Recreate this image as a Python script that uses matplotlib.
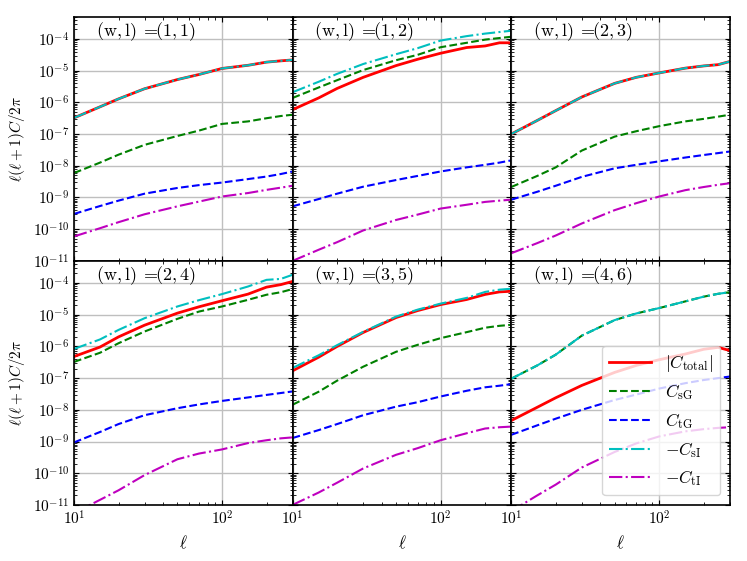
import numpy as np
import matplotlib
matplotlib.use("Agg")
import matplotlib.pyplot as plt
from matplotlib.ticker import LogLocator, NullFormatter

plt.rcParams['mathtext.fontset'] = 'cm'
plt.rcParams['font.family'] = 'serif'
plt.rcParams['font.serif'] = ['cmr10', 'DejaVu Serif']
plt.rcParams['axes.formatter.use_mathtext'] = True

# multipoles
ell = [10, 15, 20, 30, 50, 70, 100, 150, 200, 250, 300]

panel_titles = ["(1,1)", "(1,2)", "(2,3)", "(2,4)", "(3,5)", "(4,6)"]

# log10 of l(l+1)C/2pi, one list per panel
total = [
    [-6.49, -6.14, -5.89, -5.57, -5.28, -5.12, -4.93, -4.83, -4.73, -4.69, -4.66],
    [-6.23, -5.86, -5.56, -5.21, -4.84, -4.64, -4.45, -4.27, -4.22, -4.12, -4.12],
    [-7.00, -6.57, -6.26, -5.83, -5.40, -5.21, -5.07, -4.92, -4.85, -4.81, -4.71],
    [-6.32, -6.02, -5.70, -5.33, -4.95, -4.75, -4.56, -4.35, -4.13, -4.05, -3.95],
    [-6.77, -6.34, -6.00, -5.56, -5.09, -4.87, -4.68, -4.52, -4.36, -4.28, -4.26],
    [-8.34, -7.92, -7.62, -7.23, -6.82, -6.60, -6.42, -6.24, -6.09, -6.03, -6.13],
]
c_sG = [
    [-8.23, -7.90, -7.65, -7.34, -7.06, -6.89, -6.68, -6.60, -6.50, -6.43, -6.39],
    [-5.86, -5.53, -5.30, -4.98, -4.67, -4.50, -4.26, -4.12, -4.02, -3.97, -3.93],
    [-8.67, -8.32, -8.05, -7.52, -7.08, -6.91, -6.75, -6.60, -6.52, -6.45, -6.39],
    [-6.49, -6.20, -5.90, -5.53, -5.13, -4.90, -4.74, -4.53, -4.37, -4.29, -4.19],
    [-7.84, -7.43, -7.08, -6.64, -6.17, -5.95, -5.74, -5.55, -5.41, -5.35, -5.32],
    [-7.02, -6.60, -6.26, -5.66, -5.17, -4.96, -4.79, -4.58, -4.43, -4.34, -4.29],
]
c_tG = [
    [-9.52, -9.27, -9.10, -8.88, -8.70, -8.61, -8.53, -8.42, -8.34, -8.26, -8.18],
    [-9.28, -9.05, -8.88, -8.66, -8.45, -8.32, -8.18, -8.05, -7.97, -7.90, -7.83],
    [-9.07, -8.82, -8.63, -8.35, -8.08, -7.97, -7.86, -7.74, -7.66, -7.60, -7.55],
    [-9.03, -8.70, -8.45, -8.17, -7.95, -7.83, -7.72, -7.61, -7.53, -7.47, -7.42],
    [-8.89, -8.64, -8.45, -8.17, -7.90, -7.76, -7.58, -7.40, -7.29, -7.24, -7.19],
    [-8.79, -8.49, -8.28, -8.00, -7.69, -7.52, -7.33, -7.16, -7.06, -7.00, -6.95],
]
minus_c_sI = [
    [-6.49, -6.14, -5.89, -5.57, -5.28, -5.12, -4.93, -4.83, -4.73, -4.69, -4.66],
    [-5.68, -5.35, -5.10, -4.79, -4.48, -4.29, -4.05, -3.91, -3.83, -3.78, -3.74],
    [-7.00, -6.57, -6.26, -5.83, -5.40, -5.21, -5.07, -4.92, -4.85, -4.81, -4.71],
    [-6.08, -5.78, -5.48, -5.11, -4.74, -4.54, -4.35, -4.11, -3.90, -3.87, -3.74],
    [-6.68, -6.28, -5.96, -5.54, -5.06, -4.84, -4.65, -4.47, -4.28, -4.21, -4.18],
    [-7.02, -6.60, -6.26, -5.66, -5.17, -4.96, -4.79, -4.58, -4.43, -4.34, -4.29],
]
minus_c_tI = [
    [-10.23, -9.97, -9.78, -9.53, -9.28, -9.13, -8.97, -8.86, -8.76, -8.69, -8.63],
    [-11.00, -10.65, -10.41, -10.04, -9.71, -9.54, -9.35, -9.23, -9.14, -9.10, -9.07],
    [-10.76, -10.44, -10.20, -9.82, -9.40, -9.18, -8.97, -8.77, -8.67, -8.60, -8.55],
    [-11.26, -10.84, -10.54, -10.06, -9.56, -9.38, -9.25, -9.05, -8.96, -8.90, -8.87],
    [-11.00, -10.61, -10.30, -9.85, -9.42, -9.21, -8.96, -8.74, -8.59, -8.55, -8.53],
    [-11.20, -10.70, -10.36, -9.82, -9.33, -9.06, -8.84, -8.68, -8.61, -8.57, -8.55],
]

fig, axes = plt.subplots(2, 3, figsize=(7.47, 5.61), dpi=100, sharex=True, sharey=True)
fig.subplots_adjust(left=0.099, right=0.977, top=0.970, bottom=0.100, wspace=0, hspace=0)

for i, ax in enumerate(axes.flat):
    ax.plot(ell, 10**np.array(total[i]), 'r-', lw=2, label=r'$|C_{\rm total}|$')
    ax.plot(ell, 10**np.array(c_sG[i]), 'g--', lw=1.5, label=r'$C_{\rm sG}$')
    ax.plot(ell, 10**np.array(c_tG[i]), 'b--', lw=1.5, label=r'$C_{\rm tG}$')
    ax.plot(ell, 10**np.array(minus_c_sI[i]), 'c-.', lw=1.5, label=r'$-C_{\rm sI}$')
    ax.plot(ell, 10**np.array(minus_c_tI[i]), 'm-.', lw=1.5, label=r'$-C_{\rm tI}$')
    ax.set_xscale('log')
    ax.set_yscale('log')
    ax.set_xlim(10, 300)
    ax.set_ylim(1e-11, 5e-4)
    ax.yaxis.set_major_locator(LogLocator(base=10, numticks=20))
    ax.yaxis.set_minor_locator(LogLocator(base=10, subs=np.arange(2, 10), numticks=100))
    ax.yaxis.set_minor_formatter(NullFormatter())
    ax.xaxis.set_minor_formatter(NullFormatter())
    ax.grid(True, which='major', color='0.75', lw=1)
    ax.tick_params(which='both', direction='in', top=True, right=True, labelsize=11)
    for s in ax.spines.values():
        s.set_linewidth(1.2)
    ax.text(0.10, 0.985, r'$(\mathrm{w},\mathrm{l})\;\mathrm{=}\!\!' + panel_titles[i] + r'$',
            transform=ax.transAxes, ha='left', va='top', fontsize=13)
    if i >= 3:
        ax.set_xlabel(r'$\ell$', fontsize=12)
    if i % 3 == 0:
        ax.set_ylabel(r'$\ell(\ell+1)C/2\pi$', fontsize=11)

axes[1, 2].legend(loc='lower right', bbox_to_anchor=(0.955, 0.04), borderaxespad=0,
                  fontsize=12.5, handlelength=2.4)

fig.savefig("out.png", dpi=100)
